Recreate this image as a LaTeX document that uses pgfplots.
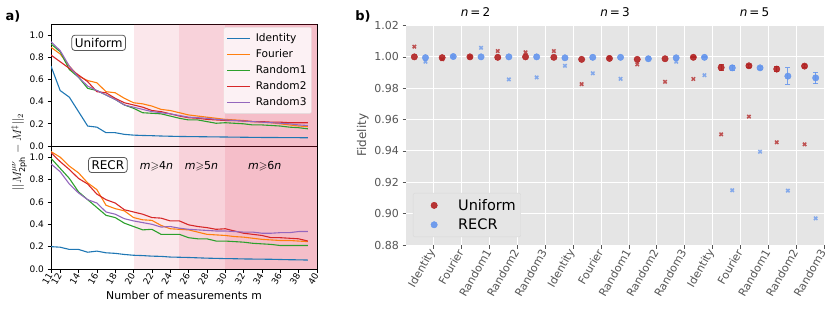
\documentclass[border=0pt]{standalone}
\usepackage{fontspec}
\setmainfont{DejaVu Sans}
\usepackage{amssymb}
\usepackage{pgfplots}
\pgfplotsset{compat=1.18}
\definecolor{c0}{HTML}{1F77B4}
\definecolor{c1}{HTML}{FF7F0E}
\definecolor{c2}{HTML}{2CA02C}
\definecolor{c3}{HTML}{D62728}
\definecolor{c4}{HTML}{9467BD}
\definecolor{ggbg}{HTML}{E5E5E5}
\definecolor{ggtxt}{HTML}{555555}
\definecolor{ured}{HTML}{B22222}
\definecolor{rblue}{HTML}{6495ED}
\definecolor{shade}{HTML}{DC143C}
\pgfplotsset{
  aax/.style={scale only axis, width=266pt, xmin=11, xmax=40, ymin=0, ymax=1.1,
    ytick={0,0.2,0.4,0.6,0.8,1.0}, ytick pos=left, xtick pos=bottom, tick align=outside,
    major tick length=3.5pt, tick style={black, line width=0.7pt},
    axis line style={line width=0.8pt},
    /pgf/number format/assume math mode=true,
    yticklabel style={font=\fontsize{9}{10}\selectfont, /pgf/number format/.cd, fixed, fixed zerofill, precision=1},
    xticklabel style={font=\fontsize{9}{10}\selectfont, rotate=60, anchor=east, inner sep=1.5pt},
    every axis plot/.append style={line width=1.1pt},
  },
  shadeplot/.style={draw=none, fill=shade, fill opacity=0.1, forget plot, line width=0pt},
  fidax/.style={scale only axis, width=139pt, height=219.5pt, xmin=0, xmax=5, ymin=0.88, ymax=1.02,
    axis background/.style={fill=ggbg}, axis line style={draw=none},
    grid=major, major grid style={white, line width=1pt},
    xtick={1,2,3,4,5}, xticklabels={Identity,Fourier,Random1,Random2,Random3},
    ytick={0.88,0.90,0.92,0.94,0.96,0.98,1.00,1.02},
    tick align=outside, tick style={ggtxt, line width=0.7pt}, major tick length=3.5pt,
    xtick pos=bottom, ytick pos=left,
    /pgf/number format/assume math mode=true,
    xticklabel style={font=\fontsize{11}{12}\selectfont, text=ggtxt, rotate=60, anchor=east, inner sep=2pt},
    yticklabel style={font=\fontsize{11}{12}\selectfont, text=ggtxt, /pgf/number format/.cd, fixed, fixed zerofill, precision=2},
    title style={font=\fontsize{12}{14}\selectfont, at={(0.5,1)}, anchor=south, inner sep=0pt, yshift=3pt},
    clip=false,
  },
  ux/.style={only marks, mark=x, mark size=2.4pt, ured, mark options={line width=1.5pt, opacity=0.75}},
  rx/.style={only marks, mark=x, mark size=2.4pt, rblue, mark options={line width=1.5pt, opacity=0.75}},
  uc/.style={only marks, mark=*, mark size=3.2pt, ured, mark options={draw=none, fill=ured, fill opacity=0.9}},
  rc/.style={only marks, mark=*, mark size=3.2pt, rblue, mark options={draw=none, fill=rblue, fill opacity=0.9}},
}
\begin{document}
\begin{tikzpicture}
\path[use as bounding box] (0pt,0pt) rectangle (830pt,-311pt);
\node[font=\bfseries\fontsize{13}{15}\selectfont] at (13pt,-16pt) {a)};
\node[font=\bfseries\fontsize{13}{15}\selectfont] at (363pt,-16pt) {b)};
\node[rotate=90, font=\fontsize{11.5}{13}\selectfont] at (19pt,-152pt) {$||M^{\mu\nu}_{\mathrm{2ph}}-M^{\ddagger}||_2$};

% ---------- panel a, top (Uniform)
\begin{axis}[aax, at={(51pt,-24pt)}, anchor=north west, height=122pt, xtick=\empty,
  legend style={at={(0.98,0.975)}, anchor=north east, font=\fontsize{10.6}{12}\selectfont,
    draw=black!12, fill=white, fill opacity=0.8, text opacity=1, rounded corners=2pt,
    row sep=2.6pt, inner xsep=3pt, inner ysep=4pt, column sep=3pt},
  legend cell align=left,
  legend image code/.code={\draw[#1, line width=0.9pt] (0pt,0pt) -- (23pt,0pt);}]
\addplot[shadeplot] coordinates {(20,0) (20,1.1) (40,1.1) (40,0)} -- cycle;
\addplot[shadeplot] coordinates {(25,0) (25,1.1) (40,1.1) (40,0)} -- cycle;
\addplot[shadeplot] coordinates {(30,0) (30,1.1) (40,1.1) (40,0)} -- cycle;
\addplot[c0] coordinates {(11,0.72)(12,0.50)(13,0.44)(14,0.31)(15,0.18)(16,0.17)(17,0.12)(18,0.12)(19,0.105)(20,0.098)(21,0.095)(22,0.093)(23,0.090)(24,0.088)(25,0.086)(26,0.085)(27,0.084)(28,0.083)(29,0.082)(30,0.081)(31,0.080)(32,0.079)(33,0.078)(34,0.077)(35,0.077)(36,0.076)(37,0.075)(38,0.075)(39,0.074)};
\addlegendentry{Identity}
\addplot[c1] coordinates {(11,0.89)(12,0.83)(13,0.72)(14,0.63)(15,0.59)(16,0.57)(17,0.49)(18,0.48)(19,0.43)(20,0.39)(21,0.38)(22,0.36)(23,0.33)(24,0.32)(25,0.30)(26,0.28)(27,0.27)(28,0.26)(29,0.25)(30,0.24)(31,0.235)(32,0.23)(33,0.22)(34,0.215)(35,0.21)(36,0.20)(37,0.19)(38,0.18)(39,0.175)};
\addlegendentry{Fourier}
\addplot[c2] coordinates {(11,0.92)(12,0.85)(13,0.69)(14,0.62)(15,0.52)(16,0.50)(17,0.46)(18,0.42)(19,0.37)(20,0.34)(21,0.30)(22,0.295)(23,0.29)(24,0.27)(25,0.25)(26,0.235)(27,0.235)(28,0.22)(29,0.205)(30,0.21)(31,0.205)(32,0.20)(33,0.19)(34,0.19)(35,0.185)(36,0.18)(37,0.17)(38,0.165)(39,0.155)};
\addlegendentry{Random1}
\addplot[c3] coordinates {(11,0.82)(12,0.76)(13,0.70)(14,0.64)(15,0.58)(16,0.49)(17,0.48)(18,0.43)(19,0.39)(20,0.37)(21,0.35)(22,0.32)(23,0.31)(24,0.29)(25,0.27)(26,0.255)(27,0.25)(28,0.24)(29,0.235)(30,0.23)(31,0.23)(32,0.225)(33,0.22)(34,0.22)(35,0.215)(36,0.215)(37,0.21)(38,0.21)(39,0.21)};
\addlegendentry{Random2}
\addplot[c4] coordinates {(11,0.94)(12,0.86)(13,0.72)(14,0.62)(15,0.54)(16,0.50)(17,0.46)(18,0.42)(19,0.37)(20,0.35)(21,0.33)(22,0.31)(23,0.30)(24,0.29)(25,0.275)(26,0.26)(27,0.255)(28,0.25)(29,0.24)(30,0.235)(31,0.23)(32,0.225)(33,0.22)(34,0.215)(35,0.21)(36,0.205)(37,0.20)(38,0.19)(39,0.185)};
\addlegendentry{Random3}
\node[draw=black!65, line width=0.8pt, rounded corners=3pt, fill=white, inner sep=3pt, font=\fontsize{12}{14}\selectfont] at (axis cs:16.2,0.93) {Uniform};
\end{axis}

% ---------- panel a, bottom (RECR)
\begin{axis}[aax, at={(51pt,-146pt)}, anchor=north west, height=123pt,
  xtick={11,12,14,16,18,20,22,24,26,28,30,32,34,36,38,40},
  xlabel={Number of measurements m},
  xlabel style={font=\fontsize{10.8}{12}\selectfont, at={(axis description cs:0.5,0)}, anchor=center, yshift=-26pt}]
\addplot[shadeplot] coordinates {(20,0) (20,1.1) (40,1.1) (40,0)} -- cycle;
\addplot[shadeplot] coordinates {(25,0) (25,1.1) (40,1.1) (40,0)} -- cycle;
\addplot[shadeplot] coordinates {(30,0) (30,1.1) (40,1.1) (40,0)} -- cycle;
\addplot[c0] coordinates {(11,0.20)(12,0.195)(13,0.175)(14,0.175)(15,0.15)(16,0.16)(17,0.145)(18,0.14)(19,0.13)(20,0.123)(21,0.12)(22,0.115)(23,0.113)(24,0.107)(25,0.105)(26,0.103)(27,0.10)(28,0.097)(29,0.095)(30,0.093)(31,0.092)(32,0.09)(33,0.089)(34,0.088)(35,0.087)(36,0.085)(37,0.083)(38,0.082)(39,0.08)};
\addplot[c1] coordinates {(11,1.05)(12,1.00)(13,0.92)(14,0.86)(15,0.77)(16,0.71)(17,0.57)(18,0.54)(19,0.52)(20,0.46)(21,0.44)(22,0.435)(23,0.39)(24,0.36)(25,0.355)(26,0.35)(27,0.33)(28,0.31)(29,0.305)(30,0.30)(31,0.29)(32,0.285)(33,0.275)(34,0.265)(35,0.26)(36,0.255)(37,0.255)(38,0.25)(39,0.245)};
\addplot[c2] coordinates {(11,0.99)(12,0.90)(13,0.81)(14,0.69)(15,0.62)(16,0.55)(17,0.48)(18,0.46)(19,0.41)(20,0.38)(21,0.35)(22,0.355)(23,0.31)(24,0.31)(25,0.31)(26,0.28)(27,0.27)(28,0.27)(29,0.25)(30,0.25)(31,0.245)(32,0.24)(33,0.23)(34,0.225)(35,0.22)(36,0.21)(37,0.21)(38,0.21)(39,0.21)};
\addplot[c3] coordinates {(11,1.04)(12,0.96)(13,0.89)(14,0.81)(15,0.76)(16,0.67)(17,0.62)(18,0.59)(19,0.53)(20,0.51)(21,0.49)(22,0.46)(23,0.455)(24,0.43)(25,0.43)(26,0.395)(27,0.38)(28,0.37)(29,0.355)(30,0.36)(31,0.34)(32,0.32)(33,0.31)(34,0.30)(35,0.28)(36,0.28)(37,0.275)(38,0.27)(39,0.25)};
\addplot[c4] coordinates {(11,0.94)(12,0.87)(13,0.76)(14,0.68)(15,0.62)(16,0.59)(17,0.51)(18,0.49)(19,0.45)(20,0.43)(21,0.415)(22,0.40)(23,0.375)(24,0.38)(25,0.365)(26,0.355)(27,0.35)(28,0.345)(29,0.34)(30,0.34)(31,0.335)(32,0.33)(33,0.33)(34,0.32)(35,0.32)(36,0.325)(37,0.325)(38,0.335)(39,0.335)};
\node[draw=black!65, line width=0.8pt, rounded corners=3pt, fill=white, inner sep=3pt, font=\fontsize{12}{14}\selectfont] at (axis cs:17.2,0.93) {RECR};
\node[font=\fontsize{11}{13}\selectfont] at (axis cs:22.5,0.92) {\textit{m}$\geqslant$4\textit{n}};
\node[font=\fontsize{11}{13}\selectfont] at (axis cs:27.4,0.92) {\textit{m}$\geqslant$5\textit{n}};
\node[font=\fontsize{11}{13}\selectfont] at (axis cs:34.3,0.92) {\textit{m}$\geqslant$6\textit{n}};
\end{axis}

% ---------- panel b, n=2
\begin{axis}[fidax, at={(406pt,-25.5pt)}, anchor=north west, title={\textit{n}\,=\,2},
  ylabel={Fidelity}, ylabel style={font=\fontsize{12}{14}\selectfont, text=ggtxt, at={(axis description cs:-0.31,0.5)}, anchor=center},
  legend style={at={(0.05,0.036)}, anchor=south west, font=\fontsize{14.5}{16}\selectfont,
    draw=black!15, fill=ggbg, rounded corners=2pt, row sep=3pt, inner xsep=3pt, inner ysep=4pt, column sep=4pt},
  legend cell align=left,
  legend image code/.code={\path[draw=none] (0pt,0pt) -- (36pt,0pt); \draw[#1] plot coordinates {(18pt,0pt)};}]
\addplot[ux, forget plot] coordinates {(0.3,1.0065)(1.3,0.9985)(2.3,1.0000)(3.3,1.0037)(4.3,1.0029)};
\addplot[rx, forget plot] coordinates {(0.7,0.9969)(1.7,1.0002)(2.7,1.0058)(3.7,0.9856)(4.7,0.9869)};
\addplot[uc] coordinates {(0.3,1.0000)(1.3,0.9995)(2.3,1.0000)(3.3,0.9997)(4.3,1.0000)};
\addlegendentry{Uniform}
\addplot[rc] coordinates {(0.7,0.9995)(1.7,1.0002)(2.7,1.0000)(3.7,1.0000)(4.7,1.0000)};
\addlegendentry{RECR}
\end{axis}

% ---------- panel b, n=3
\begin{axis}[fidax, at={(545.5pt,-25.5pt)}, anchor=north west, title={\textit{n}\,=\,3},
  yticklabels=\empty, ytick style={draw=none}]
\addplot[ux] coordinates {(0.3,1.0037)(1.3,0.9826)(2.3,0.9995)(3.3,0.9952)(4.3,0.9841)};
\addplot[rx] coordinates {(0.7,0.9943)(1.7,0.9895)(2.7,0.9860)(3.7,0.9990)(4.7,0.9969)};
\addplot[uc] coordinates {(0.3,0.9997)(1.3,0.9984)(2.3,0.9990)(3.3,0.9984)(4.3,0.9988)};
\addplot[rc] coordinates {(0.7,0.9994)(1.7,0.9997)(2.7,0.9997)(3.7,0.9988)(4.7,0.9994)};
\end{axis}

% ---------- panel b, n=5
\begin{axis}[fidax, at={(685pt,-25.5pt)}, anchor=north west, title={\textit{n}\,=\,5},
  yticklabels=\empty, ytick style={draw=none}]
\addplot[ux] coordinates {(0.3,0.9859)(1.3,0.9506)(2.3,0.9619)(3.3,0.9455)(4.3,0.9442)};
\addplot[rx] coordinates {(0.7,0.9883)(1.7,0.9149)(2.7,0.9395)(3.7,0.9147)(4.7,0.8970)};
\addplot[uc, error bars/.cd, y dir=both, y explicit,
  error bar style={ured, line width=1pt, opacity=0.85},
  error mark options={ured, rotate=90, mark size=2.5pt, line width=1pt, opacity=0.85}]
  coordinates {(0.3,0.9997) +- (0,0.0003) (1.3,0.9932) +- (0,0.0020) (2.3,0.9943) +- (0,0.0010) (3.3,0.9922) +- (0,0.0015) (4.3,0.9941) +- (0,0.0010)};
\addplot[rc, error bars/.cd, y dir=both, y explicit,
  error bar style={rblue, line width=1pt, opacity=0.85},
  error mark options={rblue, rotate=90, mark size=2.5pt, line width=1pt, opacity=0.85}]
  coordinates {(0.7,0.9997) +- (0,0.0003) (1.7,0.9930) +- (0,0.0015) (2.7,0.9930) +- (0,0.0010) (3.7,0.9877) +- (0,0.0053) (4.7,0.9866) +- (0,0.0037)};
\end{axis}
\end{tikzpicture}
\end{document}
